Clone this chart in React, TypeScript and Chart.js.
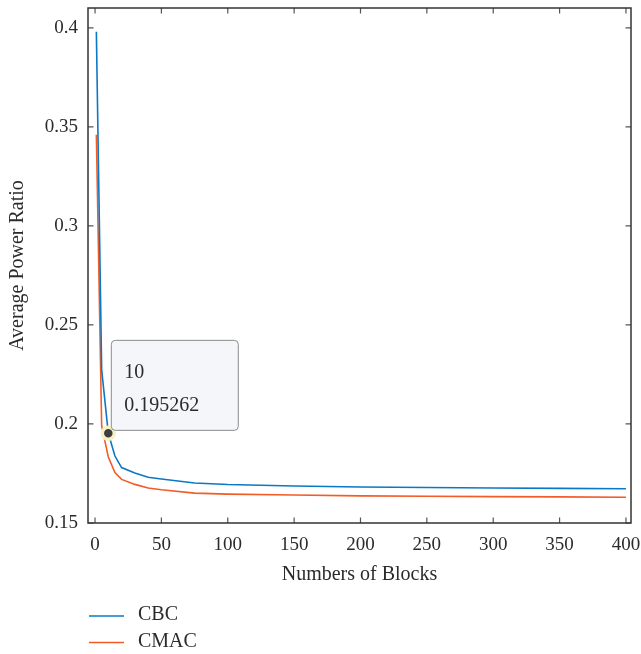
import React, { useEffect, useRef } from 'react';
import { Chart, registerables, Tooltip } from 'chart.js';

Chart.register(...registerables);

// ---- data ----
const blocks = [1, 5, 10, 15, 20, 30, 40, 50, 75, 100, 150, 200, 250, 300, 350, 400];
const cbc = [0.398, 0.2273, 0.195262, 0.1838, 0.178, 0.1752, 0.1731, 0.1722, 0.1702, 0.1694, 0.1687, 0.1682, 0.1679, 0.1677, 0.1675, 0.1673];
const cmac = [0.346, 0.199, 0.1833, 0.1755, 0.172, 0.1695, 0.1677, 0.1668, 0.1651, 0.1646, 0.1641, 0.1637, 0.1635, 0.1633, 0.1632, 0.163];
const seriesLabels = ['CBC', 'CMAC'];
const xTicks = [0, 50, 100, 150, 200, 250, 300, 350, 400];
const yTicks = [0.15, 0.2, 0.25, 0.3, 0.35, 0.4];
const highlightBlock = 10;

const BLUE = '#0B78C6';
const ORANGE = '#F25C26';
const FONT = "'Liberation Serif', 'DejaVu Serif', serif";
const TEXT = '#2b2b2b';

(Tooltip.positioners as any).pinned = function (elements: any[]) {
  if (!elements.length) return false;
  const el = elements[0].element;
  return { x: el.x + 7, y: el.y, xAlign: 'left', yAlign: 'bottom' };
};

const framePlugin = {
  id: 'frame',
  afterDatasetsDraw(chart: any) {
    const { ctx, chartArea: a, scales } = chart;
    const tl = 5.5;
    ctx.save();
    ctx.strokeStyle = '#555';
    ctx.lineWidth = 1.2;
    ctx.beginPath();
    scales.x.ticks.forEach((t: any) => {
      const px = scales.x.getPixelForValue(t.value);
      ctx.moveTo(px, a.bottom);
      ctx.lineTo(px, a.bottom - tl);
      ctx.moveTo(px, a.top);
      ctx.lineTo(px, a.top + tl);
    });
    scales.y.ticks.forEach((t: any) => {
      const py = scales.y.getPixelForValue(t.value);
      ctx.moveTo(a.left, py);
      ctx.lineTo(a.left + tl, py);
      ctx.moveTo(a.right, py);
      ctx.lineTo(a.right - tl, py);
    });
    ctx.stroke();
    ctx.strokeStyle = '#333';
    ctx.lineWidth = 1.5;
    ctx.strokeRect(a.left, a.top, a.right - a.left, a.bottom - a.top);
    ctx.restore();
  },
};

const legendPlugin = {
  id: 'vlegend',
  afterDraw(chart: any) {
    const { ctx } = chart;
    ctx.save();
    ctx.font = `20px ${FONT}`;
    ctx.textBaseline = 'middle';
    ctx.textAlign = 'left';
    chart.data.datasets.forEach((ds: any, i: number) => {
      const y = 616 + i * 26.5;
      ctx.strokeStyle = ds.borderColor;
      ctx.lineWidth = 1.6;
      ctx.beginPath();
      ctx.moveTo(89, y);
      ctx.lineTo(124, y);
      ctx.stroke();
      ctx.fillStyle = TEXT;
      ctx.fillText(ds.label, 138, y - 1);
    });
    ctx.restore();
  },
};

export default function App() {
  const ref = useRef<HTMLCanvasElement>(null);

  useEffect(() => {
    document.body.style.margin = '0';
    const canvas = ref.current;
    if (!canvas) return;
    Chart.defaults.font.family = FONT;

    const mk = (vals: number[]) => blocks.map((x, i) => ({ x, y: vals[i] }));
    const chart = new Chart(canvas, {
      type: 'line',
      data: {
        datasets: [
          {
            label: seriesLabels[0],
            data: mk(cbc),
            borderColor: BLUE,
            backgroundColor: BLUE,
            borderWidth: 1.6,
            pointRadius: 0,
            pointHoverRadius: 6,
            pointHoverBorderWidth: 3.5,
            pointHoverBackgroundColor: '#3d3d3d',
            pointHoverBorderColor: '#f6f0c4',
            tension: 0,
          },
          {
            label: seriesLabels[1],
            data: mk(cmac),
            borderColor: ORANGE,
            backgroundColor: ORANGE,
            borderWidth: 1.6,
            pointRadius: 0,
            pointHoverRadius: 0,
            tension: 0,
          },
        ],
      },
      options: {
        responsive: false,
        animation: false,
        events: [],
        layout: { padding: { top: 8, right: 10, bottom: 67, left: 0 } },
        scales: {
          x: {
            type: 'linear',
            min: -5.3,
            max: 403.8,
            afterBuildTicks: (s: any) => {
              s.ticks = xTicks.map((v) => ({ value: v }));
            },
            afterFit: (s: any) => {
              s.paddingLeft = 0;
              s.paddingRight = 0;
              s.height = 64;
            },
            grid: { display: false, drawTicks: false },
            border: { display: false },
            ticks: {
              padding: 11,
              color: TEXT,
              font: { size: 19, family: FONT },
              maxRotation: 0,
              autoSkip: false,
              callback: (v: any) => String(v),
            },
            title: {
              display: true,
              text: 'Numbers of Blocks',
              color: TEXT,
              font: { size: 20, family: FONT },
              padding: { top: 6, bottom: 0 },
            },
          },
          y: {
            type: 'linear',
            min: 0.15,
            max: 0.41,
            afterBuildTicks: (s: any) => {
              s.ticks = yTicks.map((v) => ({ value: v }));
            },
            afterFit: (s: any) => {
              s.width = 88;
              s.paddingTop = 0;
              s.paddingBottom = 0;
            },
            grid: { display: false, drawTicks: false },
            border: { display: false },
            ticks: {
              padding: 10,
              color: TEXT,
              font: { size: 19, family: FONT },
              autoSkip: false,
              callback: (v: any) => String(Number(v)),
            },
            title: {
              display: true,
              text: 'Average Power Ratio',
              color: TEXT,
              font: { size: 20, family: FONT },
              padding: { top: 6, bottom: 0 },
            },
          },
        },
        plugins: {
          legend: { display: false },
          tooltip: {
            enabled: true,
            position: 'pinned' as any,
            backgroundColor: '#f5f6f9',
            borderColor: '#8c8c8c',
            borderWidth: 1,
            cornerRadius: 4,
            caretSize: 0,
            caretPadding: 3,
            displayColors: false,
            titleColor: TEXT,
            bodyColor: TEXT,
            titleFont: { size: 20, weight: 'normal', family: FONT },
            bodyFont: { size: 20, weight: 'normal', family: FONT },
            titleMarginBottom: 9,
            padding: { top: 20, bottom: 13, left: 13, right: 39 },
            callbacks: {
              title: (items: any[]) => String(items[0].parsed.x),
              label: (item: any) => String(item.parsed.y),
            },
          },
        },
      },
      plugins: [framePlugin, legendPlugin],
    });

    const active = [{ datasetIndex: 0, index: blocks.indexOf(highlightBlock) }];
    chart.setActiveElements(active);
    chart.tooltip?.setActiveElements(active, { x: 0, y: 0 });
    chart.update();

    return () => chart.destroy();
  }, []);

  return (
    <div style={{ width: 641, height: 654 }}>
      <canvas ref={ref} width={641} height={654} />
    </div>
  );
}
